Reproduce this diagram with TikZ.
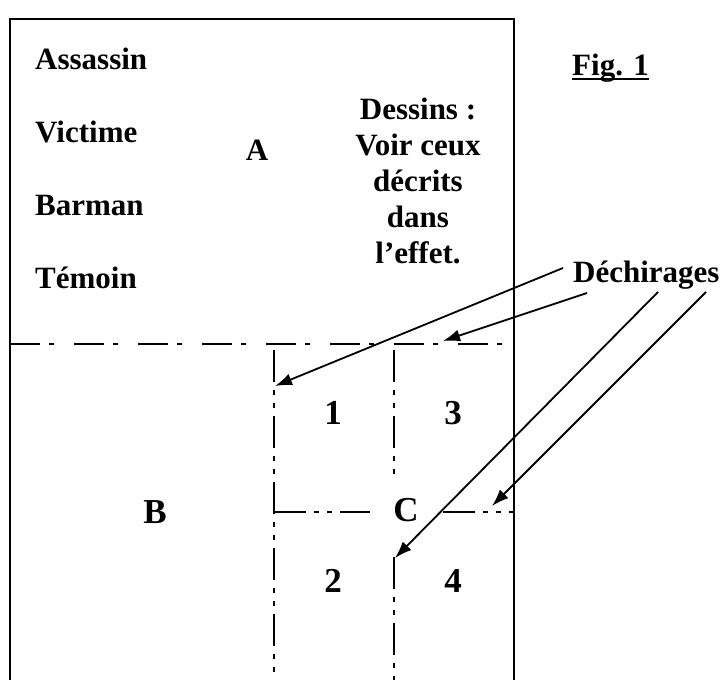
\documentclass[tikz,border=0pt]{standalone}
\usepackage{fontspec}
\setmainfont{Liberation Serif}
\usetikzlibrary{arrows.meta}
\tikzset{txt/.style={font=\fontsize{31}{36}\selectfont\bfseries,inner sep=0pt}}
\tikzset{big/.style={font=\fontsize{35}{40}\selectfont\bfseries,inner sep=0pt}}
\tikzset{frame/.style={line width=1.8pt}}
\tikzset{tearh/.style={line width=1.8pt,dash pattern=on 30pt off 9pt on 5pt off 20pt}}
\tikzset{tearv/.style={line width=1.8pt,dash pattern=on 32pt off 8pt on 5pt off 8pt on 5pt off 8pt}}
\tikzset{ptr/.style={-{Latex[length=17pt,width=12pt]},line width=1.8pt}}

\begin{document}
\begin{tikzpicture}[x=1pt,y=-1pt]
  \useasboundingbox (0,0) rectangle (724,680);
  % sheet
  \draw[frame] (10,680) -- (10,19) -- (514,19) -- (514,680);
  % tear lines
  \draw[tearh] (10,344) -- (514,344);
  \draw[tearv] (274,350) -- (274,680);
  \draw[tearv] (394,350) -- (394,477);
  \draw[tearv] (394,557) -- (394,680);
  \draw[tearv] (274,512) -- (370,512);
  \draw[tearv] (443,512) -- (514,512);

  % part A
  \node[txt,anchor=base west] (assassin) at (35,69) {Assassin};
  \node[txt,anchor=base west] (victime) at (35,142) {Victime};
  \node[txt,anchor=base west] (barman) at (35,215) {Barman};
  \node[txt,anchor=base west] (temoin) at (35,288) {Témoin};
  \node[txt,anchor=base] (partA) at (257,160) {A};
  \node[txt,anchor=base,align=center] (dessins) at (418,263)
    {Dessins :\\Voir ceux\\décrits\\dans\\l’effet.};

  % parts B, C
  \node[big,anchor=base] (partB) at (155,523) {B};
  \node[big,anchor=base] (partC) at (406,521) {C};
  \node[big,anchor=base] (c1) at (333,424) {1};
  \node[big,anchor=base] (c3) at (453,424) {3};
  \node[big,anchor=base] (c2) at (333,592) {2};
  \node[big,anchor=base] (c4) at (453,592) {4};

  \node[txt,anchor=base west] (fig) at (572,75) {Fig. 1};
  \draw[frame] ([yshift=-4pt]fig.base west) -- ([yshift=-4pt]fig.base east);

  % tears
  \node[txt,anchor=base west] (dech) at (573,282) {Déchirages};
  \coordinate (s1) at (563,268);
  \coordinate (s2) at (587,293);
  \coordinate (s3) at (658,292);
  \coordinate (s4) at (706,292);
  \coordinate (t1) at (275,386);
  \coordinate (t2) at (443,341);
  \coordinate (t3) at (395,558);
  \coordinate (t4) at (492,506);
  \draw[ptr] (s1) -- (t1);
  \draw[ptr] (s2) -- (t2);
  \draw[ptr] (s3) -- (t3);
  \draw[ptr] (s4) -- (t4);
\end{tikzpicture}
\end{document}
